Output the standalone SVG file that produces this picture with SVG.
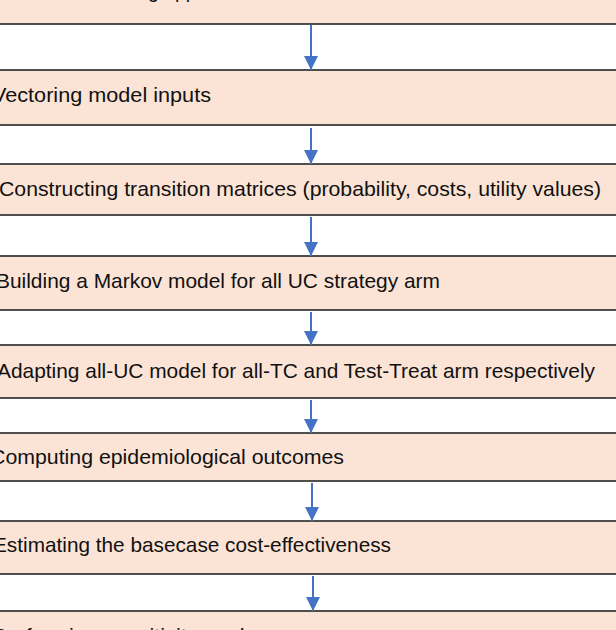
<svg xmlns="http://www.w3.org/2000/svg" width="616" height="630" viewBox="0 0 616 630">
  <style>
    .box { fill: #FBE4D5; stroke: #262626; stroke-width: 1.6; }
    .lbl { font-family: "Liberation Sans", Arial, sans-serif; font-size: 21px; fill: #111111; }
    .arrow { stroke: #4472C4; stroke-width: 2; fill: none; marker-end: url(#head); }
  </style>
  <defs>
    <marker id="head" markerUnits="userSpaceOnUse" markerWidth="14" markerHeight="14" viewBox="0 0 14 14" refX="14" refY="7" orient="auto">
      <path d="M0,0 L14,7 L0,14 z" fill="#4472C4"/>
    </marker>
  </defs>
  <rect x="0" y="0" width="616" height="630" fill="#FFFFFF"/>

  <g id="node0">
    <rect class="box" x="-10" y="-30" width="636" height="54"/>
    <text class="lbl" x="-4" y="-2" textLength="249" lengthAdjust="spacingAndGlyphs">Decision modelling approach</text>
  </g>
  <g id="node1">
    <rect class="box" x="-10" y="70" width="636" height="55"/>
    <text class="lbl" x="-8" y="102" textLength="219" lengthAdjust="spacingAndGlyphs">Vectoring model inputs</text>
  </g>
  <g id="node2">
    <rect class="box" x="-10" y="164" width="636" height="51"/>
    <text class="lbl" x="-1" y="196" textLength="602" lengthAdjust="spacingAndGlyphs">Constructing transition matrices (probability, costs, utility values)</text>
  </g>
  <g id="node3">
    <rect class="box" x="-10" y="256" width="636" height="54"/>
    <text class="lbl" x="-4" y="288" textLength="444" lengthAdjust="spacingAndGlyphs">Building a Markov model for all UC strategy arm</text>
  </g>
  <g id="node4">
    <rect class="box" x="-10" y="345" width="636" height="53"/>
    <text class="lbl" x="-3" y="378" textLength="598" lengthAdjust="spacingAndGlyphs">Adapting all-UC model for all-TC and Test-Treat arm respectively</text>
  </g>
  <g id="node5">
    <rect class="box" x="-10" y="433" width="636" height="48"/>
    <text class="lbl" x="-10" y="464" textLength="354" lengthAdjust="spacingAndGlyphs">Computing epidemiological outcomes</text>
  </g>
  <g id="node6">
    <rect class="box" x="-10" y="521" width="636" height="53"/>
    <text class="lbl" x="-7" y="552" textLength="398" lengthAdjust="spacingAndGlyphs">Estimating the basecase cost-effectiveness</text>
  </g>
  <g id="node7">
    <rect class="box" x="-10" y="611" width="636" height="54"/>
    <text class="lbl" x="-8" y="643" textLength="297" lengthAdjust="spacingAndGlyphs">Performing sensitivity analyses</text>
  </g>

  <g id="connectors">
    <line class="arrow" x1="311" y1="25" x2="311" y2="70"/>
    <line class="arrow" x1="311" y1="128" x2="311" y2="164"/>
    <line class="arrow" x1="311" y1="217" x2="311" y2="256"/>
    <line class="arrow" x1="311" y1="312" x2="311" y2="345"/>
    <line class="arrow" x1="311" y1="400" x2="311" y2="433"/>
    <line class="arrow" x1="312" y1="483" x2="312" y2="521"/>
    <line class="arrow" x1="313" y1="576" x2="313" y2="611"/>
  </g>
</svg>
